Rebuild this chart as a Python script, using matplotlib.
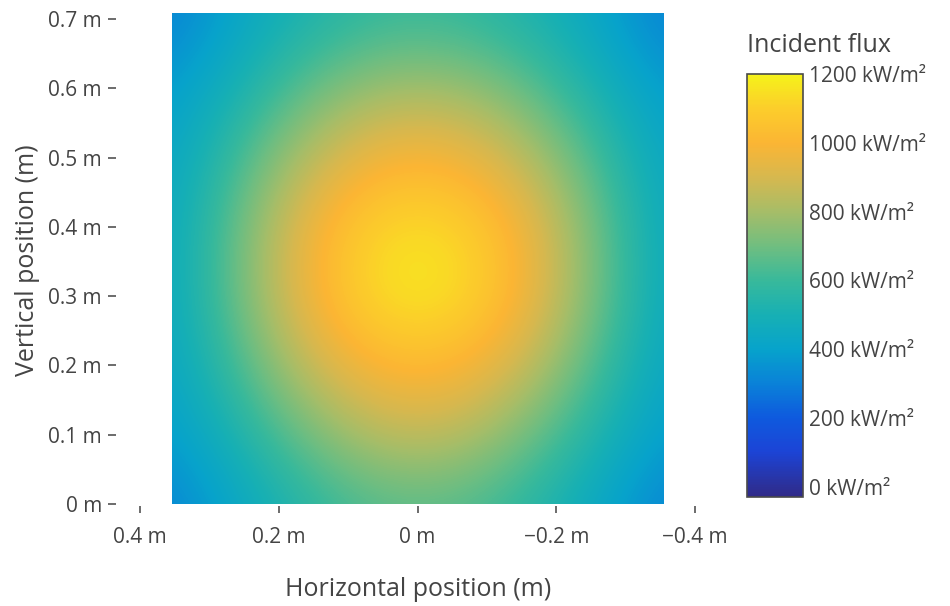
import numpy as np
import matplotlib
matplotlib.use("Agg")
import matplotlib.pyplot as plt
from matplotlib.colors import LinearSegmentedColormap, Normalize
from matplotlib.patches import Rectangle

plt.rcParams['font.family'] = ['Open Sans', 'DejaVu Sans']

# ---- data ----
x_pos = [-0.35, -0.25, -0.15, -0.05, 0.05, 0.15, 0.25, 0.35]   # m (cell centres)
y_pos = [0.0, 0.1, 0.2, 0.3, 0.4, 0.5, 0.6, 0.7]               # m
flux = [  # kW/m2, rows = y_pos, cols = x_pos
    [305, 440, 570, 650, 650, 570, 440, 305],
    [380, 540, 720, 850, 850, 720, 540, 380],
    [420, 650, 890, 1020, 1020, 890, 650, 420],
    [440, 730, 1000, 1170, 1170, 1000, 730, 440],
    [440, 720, 990, 1140, 1140, 990, 720, 440],
    [420, 640, 860, 990, 990, 860, 640, 420],
    [375, 520, 690, 790, 790, 690, 520, 375],
    [300, 430, 530, 590, 590, 530, 430, 300],
]
x_ticks = [0.4, 0.2, 0.0, -0.2, -0.4]
x_labels = ["0.4 m", "0.2 m", "0 m", "\u22120.2 m", "\u22120.4 m"]
y_ticks = [0.0, 0.1, 0.2, 0.3, 0.4, 0.5, 0.6, 0.7]
y_labels = ["0 m", "0.1 m", "0.2 m", "0.3 m", "0.4 m", "0.5 m", "0.6 m", "0.7 m"]
cb_ticks = [0, 200, 400, 600, 800, 1000, 1200]
cb_labels = [f"{v} kW/m\u00b2" for v in cb_ticks]
heat_x_extent = (-0.354, 0.354)
heat_y_extent = (0.0, 0.709)

# colour scale
cmin, cmax = -30, 1200
stops = [(-30, "#302a88"), (100, "#1c44d6"), (200, "#0e5ade"), (300, "#0a82d8"),
         (400, "#07a3cb"), (500, "#17b0b4"), (600, "#38b99b"), (700, "#70be80"),
         (800, "#a6bd68"), (900, "#d6b84f"), (1000, "#fbb534"), (1100, "#fccd2b"),
         (1200, "#f5f21a")]
cmap = LinearSegmentedColormap.from_list(
    "flux", [((v - cmin) / (cmax - cmin), c) for v, c in stops])
norm = Normalize(vmin=cmin, vmax=cmax)

W, H = 950, 606
fig = plt.figure(figsize=(W / 100, H / 100), dpi=100)
fig.patch.set_facecolor("white")

# main axes: x 140..695 px, y 13..506 px
ax = fig.add_axes([140 / W, 1 - 506 / H, 555 / W, 493 / H])
Z = np.array(flux, dtype=float)
dx = x_pos[1] - x_pos[0]
dy = y_pos[1] - y_pos[0]
im = ax.imshow(Z, origin="lower", cmap=cmap, norm=norm, interpolation="bicubic",
               extent=[x_pos[0] - dx / 2, x_pos[-1] + dx / 2,
                       y_pos[0] - dy / 2, y_pos[-1] + dy / 2], aspect="auto")
clip = Rectangle((heat_x_extent[0], heat_y_extent[0]),
                 heat_x_extent[1] - heat_x_extent[0],
                 heat_y_extent[1] - heat_y_extent[0],
                 transform=ax.transData, facecolor="none", edgecolor="none")
ax.add_patch(clip)
im.set_clip_path(clip)

ax.set_xlim(0.4, -0.4)
ax.set_ylim(-0.0029, 0.7087)
for s in ax.spines.values():
    s.set_visible(False)
ax.spines["left"].set_position(("outward", 17.3))
ax.set_xticks(x_ticks)
ax.set_xticklabels(x_labels)
ax.set_yticks(y_ticks)
ax.set_yticklabels(y_labels)
ax.tick_params(axis="x", direction="out", length=5, width=1.1, color="#444444",
               labelsize=15, labelcolor="#444444", pad=10)
ax.tick_params(axis="y", direction="out", length=5.8, width=1.1, color="#444444",
               labelsize=15, labelcolor="#444444", pad=4.3)

fig.text(418 / W, 1 - 590 / H, "Horizontal position (m)", ha="center", va="center",
         fontsize=18, color="#444444")
fig.text(28 / W, 1 - 260 / H, "Vertical position (m)", ha="center", va="center",
         rotation=90, fontsize=18, color="#444444")

# colour bar: x 747..803, y 74..497
cax = fig.add_axes([747 / W, 1 - 497 / H, 56 / W, 423 / H])
cb = fig.colorbar(im, cax=cax, ticks=cb_ticks)
cb.set_ticklabels(cb_labels)
cb.outline.set_edgecolor("#4a4a4a")
cb.outline.set_linewidth(1.2)
cax.tick_params(length=0, labelsize=15, labelcolor="#444444", pad=4)
fig.text(747 / W, 1 - 46 / H, "Incident flux", ha="left", va="center",
         fontsize=18, color="#444444")

fig.savefig("out.png", dpi=100, facecolor="white")
